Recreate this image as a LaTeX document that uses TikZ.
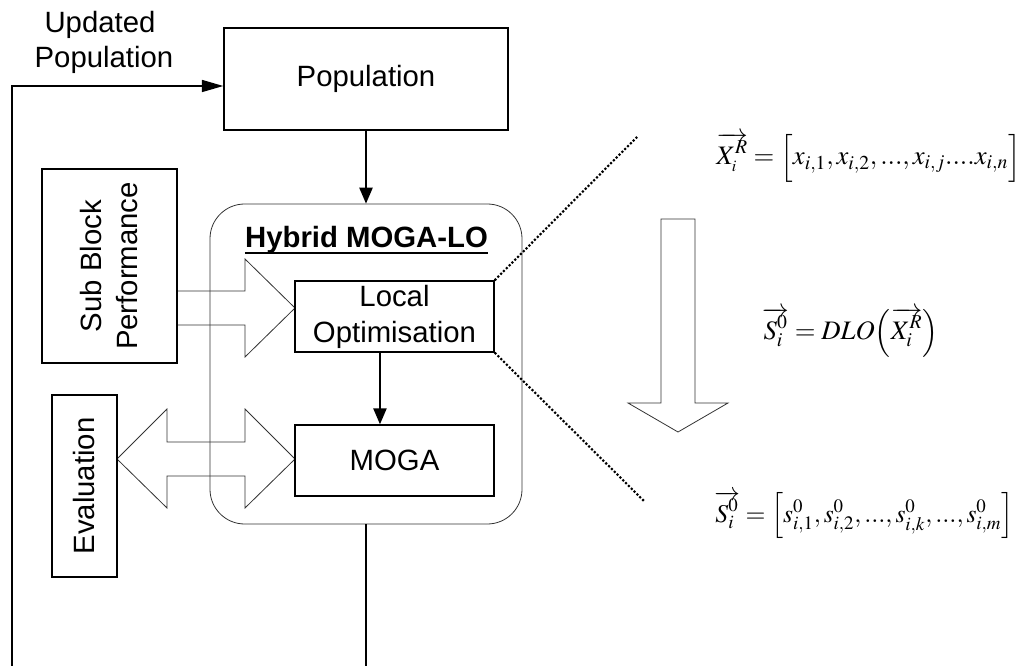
\documentclass[tikz,border=0pt]{standalone}
\usepackage{mathptmx}
\usepackage{fontspec}
\setmainfont{Liberation Sans}
\usetikzlibrary{arrows.meta}
\begin{document}
\begin{tikzpicture}[x=0.75pt,y=-0.75pt,
  box/.style={draw=black,line width=1.1pt,inner sep=0pt,font=\fontsize{22}{27}\selectfont},
  blk/.style={draw=black!80,line width=0.6pt},
  lbl/.style={inner sep=0pt,font=\fontsize{22}{27}\selectfont},
  eq/.style={inner sep=0pt,anchor=base west,font=\fontsize{20}{24}\selectfont},
  arr/.style={-{Triangle[length=12pt,width=10pt]},line width=1.1pt},
  zoomline/.style={line width=1.6pt,dash pattern=on 1.6pt off 1.4pt}]
\useasboundingbox (0,0) rectangle (1024,666);

% block arrows (drawn first)
\draw[blk] (177,291) -- (245,291) -- (245,259) -- (295,308) -- (245,357) -- (245,325) -- (177,325);
\draw[blk] (117,459) -- (167,409) -- (167,442) -- (245,442) -- (245,409) -- (295,459)
  -- (245,508) -- (245,476) -- (167,476) -- (167,508) -- cycle;
\draw[blk] (661,219) -- (695,219) -- (695,403) -- (728,403) -- (678,432) -- (628,403) -- (661,403) -- cycle;

% boxes
\node[box,minimum width=213pt,minimum height=76.5pt] (pop) at (366,79) {Population};
\node[draw=black!80,line width=0.6pt,rounded corners=26pt,minimum width=234pt,minimum height=240pt,inner sep=0pt] (hyb) at (366,364) {};
\node[lbl,anchor=base,font=\fontsize{22}{27}\selectfont\bfseries] (title) at (366.5,248) {Hybrid MOGA-LO};
\draw[line width=1.4pt] ([yshift=-4pt]title.base west) -- ([yshift=-4pt]title.base east);
\node[box,minimum width=149.25pt,minimum height=53.25pt,align=center] (lo) at (394.5,316.5) {Local\\Optimisation};
\node[box,minimum width=149.25pt,minimum height=53.25pt] (moga) at (394.5,460.5) {MOGA};
\node[box,minimum width=101.25pt,minimum height=145.5pt] (sb) at (109.5,266) {};
\node[lbl,rotate=90,align=center] (sbt) at (109.5,266) {Sub Block\\Performance};
\node[box,minimum width=48.75pt,minimum height=136.5pt] (ev) at (84.5,486) {};
\node[lbl,rotate=90] (evt) at (84.5,486) {Evaluation};

% labels
\node[lbl,anchor=base] (up1) at (100,33) {Updated};
\node[lbl,anchor=base] (up2) at (104,68) {Population};

% connectors
\draw[arr] (pop.south) -- (hyb.north);
\draw[arr] ([xshift=-10.9pt]lo.south) -- ([xshift=-10.9pt]moga.north);
\coordinate (b1) at (366,666);
\draw[line width=1.1pt] (hyb.south) -- (b1);
\coordinate (l1) at (12,666);
\coordinate (l2) at (12,86);
\draw[line width=1.1pt,-{Triangle[length=16pt,width=9pt]}] (l1) -- (l2) -- (l2 -| pop.west);

% zoom lines
\coordinate (z1) at (637,137);
\coordinate (z2) at (644,501);
\draw[zoomline] (lo.north east) -- (z1);
\draw[zoomline] (lo.south east) -- (z2);

% equations
\node[eq] (e1) at (716,165) {$\overrightarrow{X^{R}_{\scriptscriptstyle i}} = \Big[x_{i,1}, x_{i,2},{.}{.}{.}, x_{i,j}{.}{.}{.}{.}x_{i,n}\Big]$};
\node[eq] (e2) at (762,340) {$\overrightarrow{S_i^0} = DLO\Big(\overrightarrow{X_i^R}\Big)$};
\node[eq,font=\fontsize{19.2}{23}\selectfont] (e3) at (714,522) {$\overrightarrow{S_i^0} = \Big[s_{i,1}^0, s_{i,2}^0,{.}{.}{.}, s_{i,k}^0,{.}{.}{.}, s_{i,m}^0\Big]$};
\end{tikzpicture}
\end{document}
